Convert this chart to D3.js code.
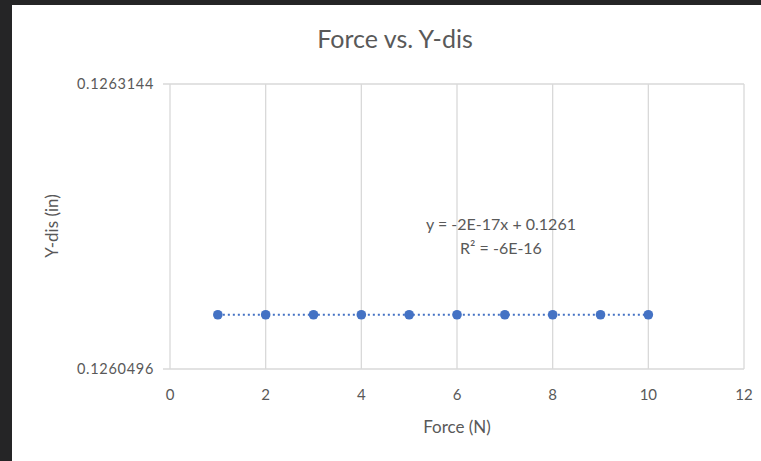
<!DOCTYPE html>
<html><head><meta charset="utf-8">
<script src="https://cdn.jsdelivr.net/npm/d3@7"></script>
<style>
html,body{margin:0;padding:0;background:#252526;}
svg{display:block;}
text{font-family:Lato,"Open Sans",sans-serif;}
</style></head>
<body>
<script>
const force = [1,2,3,4,5,6,7,8,9,10];
const ydis = [0.1261,0.1261,0.1261,0.1261,0.1261,0.1261,0.1261,0.1261,0.1261,0.1261];
const xTicks = [0,2,4,6,8,10,12];
const yTicks = [0.1260496,0.1263144];
const yTickLabels = ["0.1260496","0.1263144"];
const titleText = "Force vs. Y-dis";
const xTitle = "Force (N)";
const yTitle = "Y-dis (in)";
const eqLines = ["y = -2E-17x + 0.1261","R\u00B2 = -6E-16"];

const W=761,H=461;
const svg=d3.select("body").append("svg").attr("width",W).attr("height",H);
svg.append("rect").attr("x",0).attr("y",0).attr("width",W).attr("height",H).attr("fill","#252526");
svg.append("rect").attr("x",12).attr("y",5).attr("width",W-12).attr("height",H-5).attr("fill","#ffffff");

const x=d3.scaleLinear().domain([0,12]).range([170,744]);
const y=d3.scaleLinear().domain([yTicks[0],yTicks[1]]).range([369,84]);
const grid="#d9d9d9", txt="#595959";

// vertical gridlines
svg.append("g").selectAll("line").data(xTicks).join("line")
 .attr("x1",d=>x(d)).attr("x2",d=>x(d)).attr("y1",y(yTicks[1])).attr("y2",y(yTicks[0]))
 .attr("stroke",grid).attr("stroke-width",1.3);
// horizontal gridlines with left ticks
svg.append("g").selectAll("line").data(yTicks).join("line")
 .attr("x1",163).attr("x2",x(12)).attr("y1",d=>y(d)).attr("y2",d=>y(d))
 .attr("stroke",grid).attr("stroke-width",1.3);

// y tick labels
svg.append("g").selectAll("text").data(yTicks).join("text")
 .attr("x",154).attr("y",d=>y(d)+5).attr("text-anchor","end")
 .attr("font-size",14.5).attr("letter-spacing",0.7).attr("fill",txt).text((d,i)=>yTickLabels[i]);
// x tick labels
svg.append("g").selectAll("text").data(xTicks).join("text")
 .attr("x",d=>x(d)).attr("y",400).attr("text-anchor","middle")
 .attr("font-size",15).attr("fill",txt).text(d=>d);

// title
svg.append("text").attr("x",395).attr("y",48).attr("text-anchor","middle")
 .attr("font-size",25).attr("fill",txt).text(titleText);
// axis titles
svg.append("text").attr("x",457).attr("y",433).attr("text-anchor","middle")
 .attr("font-size",17).attr("fill",txt).text(xTitle);
svg.append("text").attr("transform","translate(58,226) rotate(-90)").attr("text-anchor","middle")
 .attr("font-size",17).attr("fill",txt).text(yTitle);

// trendline (linear fit)
const mx=d3.mean(force), my=d3.mean(ydis);
let sxy=0,sxx=0; force.forEach((v,i)=>{sxy+=(v-mx)*(ydis[i]-my);sxx+=(v-mx)*(v-mx);});
const slope=sxx?sxy/sxx:0, icpt=my-slope*mx;
const x0=d3.min(force), x1=d3.max(force);
svg.append("line").attr("x1",x(x0)).attr("x2",x(x1))
 .attr("y1",y(icpt+slope*x0)).attr("y2",y(icpt+slope*x1))
 .attr("stroke","#4472C4").attr("stroke-width",2.2).attr("stroke-dasharray","2,3");

// points
svg.append("g").selectAll("circle").data(force).join("circle")
 .attr("cx",d=>x(d)).attr("cy",(d,i)=>y(ydis[i])).attr("r",4.8).attr("fill","#4472C4");

// equation
svg.append("g").selectAll("text").data(eqLines).join("text")
 .attr("x",501).attr("y",(d,i)=>230+i*24).attr("text-anchor","middle")
 .attr("font-size",16).attr("fill",txt).text(d=>d);
</script>
</body></html>
